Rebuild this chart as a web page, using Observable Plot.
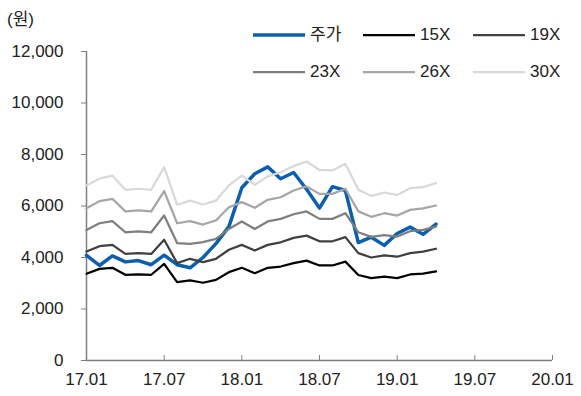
<!DOCTYPE html>
<html>
<head>
<meta charset="utf-8">
<script src="https://cdn.jsdelivr.net/npm/d3@7"></script>
<script src="https://cdn.jsdelivr.net/npm/@observablehq/plot@0.6"></script>
<style>
  body { margin: 0; background: #fff; }
  #chart {
    position: relative; width: 581px; height: 396px;
    font-family: "Liberation Sans", Arial, "Noto Sans CJK KR", sans-serif;
    color: #222;
  }
  #chart > svg { position: absolute; left: 0; top: 0; }
  #unit { position: absolute; left: 7px; top: 9px; font-size: 17px; line-height: 22px; }
  #legend {
    position: absolute; left: 252px; top: 24px;
    display: grid; grid-template-columns: repeat(3, 110px); row-gap: 15px;
    font-size: 17px;
  }
  .item { display: flex; align-items: center; height: 22px; line-height: 22px; white-space: nowrap; }
  .item svg { display: block; margin-right: 4px; }
</style>
</head>
<body>
<div id="chart">
  <div id="unit">(원)</div>
  <div id="legend"></div>
</div>
<script>
// Monthly closing price and PER band (EPS x multiple), Jan 2017 - Apr 2019
const months = ["17.01","17.02","17.03","17.04","17.05","17.06","17.07","17.08","17.09","17.10","17.11","17.12",
                "18.01","18.02","18.03","18.04","18.05","18.06","18.07","18.08","18.09","18.10","18.11","18.12",
                "19.01","19.02","19.03","19.04"];
const tickLabels = ["17.01","17.07","18.01","18.07","19.01","19.07","20.01"];
const yTicks = [0, 2000, 4000, 6000, 8000, 10000, 12000];

const seriesNames = ["주가", "15X", "19X", "23X", "26X", "30X"];
const price = [4080,3690,4060,3830,3880,3720,4090,3720,3600,4000,4540,5200,
               6710,7250,7520,7060,7300,6650,5920,6750,6600,4580,4790,4470,
               4930,5180,4900,5300];
const per15 = [3370,3560,3600,3330,3340,3330,3750,3040,3110,3020,3130,3430,
               3600,3390,3600,3650,3780,3880,3690,3690,3840,3320,3200,3260,
               3200,3340,3370,3460];
const per19 = [4230,4440,4490,4140,4170,4140,4690,3780,3950,3820,3950,4300,
               4490,4270,4490,4590,4760,4850,4630,4630,4790,4170,4000,4080,
               4030,4170,4230,4340];
const per23 = [5070,5330,5410,4980,5010,4980,5630,4560,4530,4600,4720,5110,
               5400,5110,5400,5500,5680,5790,5500,5500,5720,4980,4800,4870,
               4815,5020,5070,5200];
const per26 = [5910,6190,6280,5790,5830,5790,6580,5330,5410,5280,5440,5950,
               6150,5930,6240,6340,6600,6760,6470,6470,6670,5790,5580,5720,
               5630,5850,5910,6020];
const per30 = [6800,7060,7180,6630,6670,6630,7510,6050,6210,6060,6210,6800,
               7180,6820,7150,7310,7550,7730,7400,7380,7640,6630,6390,6520,
               6430,6690,6730,6890];
const seriesValues = [price, per15, per19, per23, per26, per30];

// Line styles, one per series
const seriesColors = ["#0b5fb0", "#000000", "#404040", "#7f7f7f", "#a6a6a6", "#d9d9d9"];
const seriesWidths = [3.5, 2.25, 2.25, 2.25, 2.25, 2.25];

// "YY.MM" -> months since 17.01
const monthIndex = s => { const [y, m] = s.split(".").map(Number); return (y - 17) * 12 + (m - 1); };
const tickText = new Map(tickLabels.map(t => [monthIndex(t), t]));

const rows = seriesNames.map((name, i) =>
  months.map((m, j) => ({series: name, x: monthIndex(m), value: seriesValues[i][j]}))
);

const axisColor = "#808080";
const textColor = "#222";

const chart = Plot.plot({
  width: 581,
  height: 396,
  marginLeft: 86,
  marginRight: 29,
  marginTop: 51,
  marginBottom: 36,
  style: {
    fontFamily: '"Liberation Sans", Arial, "Noto Sans CJK KR", sans-serif',
    fontSize: "17px",
    background: "transparent",
    overflow: "visible"
  },
  x: {domain: [monthIndex(tickLabels[0]), monthIndex(tickLabels[tickLabels.length - 1])]},
  y: {domain: [0, 12000]},
  marks: [
    Plot.axisY({ticks: yTicks, tickFormat: d3.format(","), tickSize: 5, tickPadding: 18,
                stroke: axisColor, fill: textColor, label: null}),
    Plot.axisX({ticks: tickLabels.map(monthIndex), tickFormat: d => tickText.get(d),
                tickSize: -5, tickPadding: 17, stroke: axisColor, fill: textColor, label: null}),
    Plot.ruleX([monthIndex(tickLabels[0])], {stroke: axisColor, strokeWidth: 1.5}),
    Plot.ruleY([0], {stroke: axisColor, strokeWidth: 1.5}),
    ...rows.map((data, i) => Plot.line(data, {
      x: "x", y: "value",
      stroke: seriesColors[i], strokeWidth: seriesWidths[i],
      strokeLinejoin: "round", strokeLinecap: "round"
    }))
  ]
});
document.getElementById("chart").prepend(chart);

// Legend: three columns, two rows
const legend = d3.select("#legend");
seriesNames.forEach((name, i) => {
  const item = legend.append("div").attr("class", "item");
  const sw = item.append("svg").attr("width", 54).attr("height", 8);
  sw.append("line").attr("x1", 1).attr("x2", 53).attr("y1", 4).attr("y2", 4)
    .attr("stroke", seriesColors[i]).attr("stroke-width", seriesWidths[i]);
  item.append("span").text(name);
});
</script>
</body>
</html>
